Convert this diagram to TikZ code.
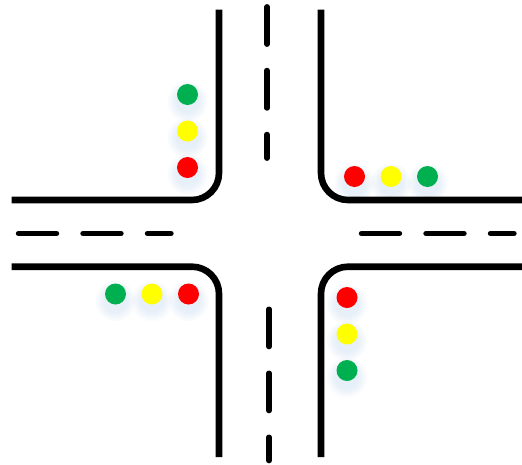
\documentclass[tikz,border=0pt]{standalone}
\definecolor{lampgreen}{RGB}{0,176,80}
\definecolor{lampyellow}{RGB}{255,255,0}
\definecolor{lampred}{RGB}{255,0,0}
\definecolor{glowblue}{RGB}{150,185,225}
\begin{document}
\begin{tikzpicture}[x=1pt,y=-1pt,
  kerb/.style={line width=6.6pt,black,rounded corners=27pt},
  lane/.style={line width=5.4pt,black,line cap=round},
  lamp/.style={circle,minimum size=21pt,inner sep=0pt,fill=#1},
  glow/.pic={\foreach \r in {20,18,16,14,12}{\fill[glowblue,opacity=0.05] (0,7) circle[radius=\r pt];}}]
\useasboundingbox (0,0) rectangle (522,464);
\foreach \p/\q in {187.5/94.5,187.5/131,187.5/167.5,354.5/176.5,391/176.5,427.5/176.5,115.5/294,152/294,188.5/294,347/297.5,347/334,347/370.5}{\path (\p,\q) pic{glow};}
\draw[kerb] (219,9.5) -- (219,200) -- (11.5,200);
\draw[kerb] (11.5,266.7) -- (219,266.7) -- (219,457);
\draw[kerb] (321,9.5) -- (321,200) -- (522,200);
\draw[kerb] (522,266.7) -- (321,266.7) -- (321,457);
\foreach \a/\b in {18.5/56.5,83/121,147.5/171,361.5/399.5,426/464,490.5/514}{\draw[lane] (\a,233.5) -- (\b,233.5);}
\foreach \a/\b in {6.8/44.2,70.5/108,134.5/158.2}{\draw[lane] (267,\a) -- (267,\b);}
\foreach \a/\b in {309.2/346.6,373.2/410.6,437.2/460.6}{\draw[lane] (269,\a) -- (269,\b);}
\node[lamp=lampgreen] (tg) at (187.5,94.5) {};
\node[lamp=lampyellow] (ty) at (187.5,131) {};
\node[lamp=lampred] (tr) at (187.5,167.5) {};
\node[lamp=lampred] (rr) at (354.5,176.5) {};
\node[lamp=lampyellow] (ry) at (391,176.5) {};
\node[lamp=lampgreen] (rg) at (427.5,176.5) {};
\node[lamp=lampgreen] (lg) at (115.5,294) {};
\node[lamp=lampyellow] (ly) at (152,294) {};
\node[lamp=lampred] (lr) at (188.5,294) {};
\node[lamp=lampred] (br) at (347,297.5) {};
\node[lamp=lampyellow] (by) at (347,334) {};
\node[lamp=lampgreen] (bg) at (347,370.5) {};
\end{tikzpicture}
\end{document}
